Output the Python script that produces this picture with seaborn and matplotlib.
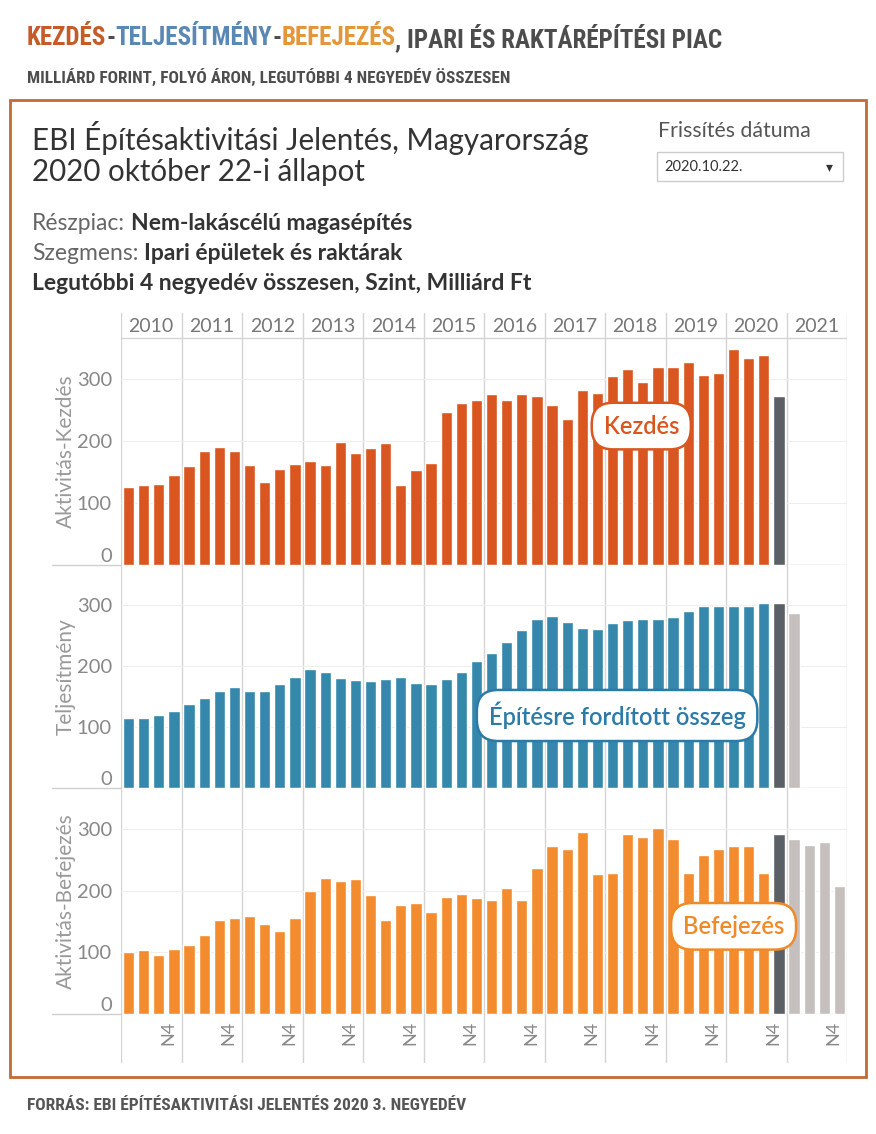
import numpy as np
import pandas as pd
import matplotlib
matplotlib.use('Agg')
import matplotlib.pyplot as plt
from matplotlib import font_manager
from matplotlib.font_manager import FontProperties
from matplotlib.patches import Rectangle
from matplotlib.lines import Line2D
import seaborn as sns

# --- data (Milliárd Ft, legutóbbi 4 negyedév összesen) ---
years = list(range(2010, 2022))
quarters = [f'{y} N{q}' for y in years for q in range(1, 5)]

kezdes = [126, 129, 130, 145, 159, 184, 190, 184, 161, 134, 155, 163,
          167, 161, 198, 180, 188, 196, 129, 153, 165, 246, 262, 266,
          276, 266, 276, 272, 258, 235, 282, 278, 305, 316, 295, 319,
          319, 327, 307, 310, 348, 334, 339, 272]
teljesitmeny = [115, 115, 119, 127, 138, 148, 160, 166, 160, 160, 170, 183,
                195, 191, 181, 177, 175, 179, 183, 173, 170, 179, 191, 208,
                222, 240, 259, 277, 282, 273, 263, 261, 271, 275, 277, 277,
                280, 290, 298, 298, 298, 298, 304, 304, 288]
befejezes = [101, 103, 95, 105, 112, 128, 152, 155, 159, 146, 134, 155,
             200, 220, 216, 218, 192, 152, 177, 179, 165, 189, 195, 188,
             184, 204, 184, 237, 272, 267, 294, 226, 229, 292, 286, 302,
             284, 229, 257, 267, 272, 272, 229, 292, 284, 274, 278, 208]
current_idx = 43  # legutóbbi negyedév, sötétszürke

C_KEZD = '#D95620'
C_TELJ = '#3588AB'
C_BEF = '#F28C2E'
C_CUR = '#5B5F66'
C_FORE = '#C5BFBD'

sns.set_style('white')
plt.rcParams['font.family'] = ['Lato', 'DejaVu Sans']


# condensed bold font for the outer titles, if one is installed
def find_condensed():
    best = None
    for f in font_manager.fontManager.ttflist:
        narrow = ('Condensed' in f.name or 'Narrow' in f.name
                  or f.stretch in ('condensed', 'semi-condensed', 'extra-condensed', 'ultra-condensed')
                  or (isinstance(f.stretch, int) and f.stretch < 500))
        heavy = f.weight in ('bold', 'semibold', 'demibold', 'heavy') or (isinstance(f.weight, int) and f.weight >= 600)
        if narrow and heavy and 'Italic' not in f.fname and 'Oblique' not in f.fname:
            if best is None or ('Bold' in f.fname and 'Semi' not in f.fname):
                best = f
    return best


cf = find_condensed()
COND = FontProperties(fname=cf.fname) if cf else FontProperties(family='DejaVu Sans', weight='bold')
BODY = ['Lato', 'DejaVu Sans']

W, H = 876, 1134
fig = plt.figure(figsize=(W / 100, H / 100), dpi=100)
renderer = fig.canvas.get_renderer()


def rect(x0, y0, x1, y1):
    return [x0 / W, 1 - y1 / H, (x1 - x0) / W, (y1 - y0) / H]


def text_kw(family, weight, size):
    if isinstance(family, FontProperties):
        fp = family.copy()
        fp.set_size(size)
        return dict(fontproperties=fp)
    return dict(family=family, fontweight=weight, fontsize=size)


def measure(s, family, weight, size):
    t = fig.text(0, 0, s, **text_kw(family, weight, size))
    w = t.get_window_extent(renderer=renderer).width
    t.remove()
    return w


def rich_line(x, y, parts, size, family, width=None):
    """pieces of differently styled text on one line; optionally fitted to a pixel width"""
    if width:
        full = ''.join(p[0] for p in parts)
        size = size * width / measure(full, family, parts[-1][2], size)
    prefix, prev_w = '', parts[0][2]
    for s, c, w in parts:
        body = s.lstrip()
        lead = s[:len(s) - len(body)]
        # where the first glyph of this piece would sit inside the whole line
        if prefix:
            off = measure(prefix + lead + body[0], family, prev_w, size) - measure(body[0], family, prev_w, size)
        else:
            off = 0
        fig.text((x + off) / W, 1 - y / H, body, color=c, ha='left', va='center', **text_kw(family, w, size))
        prefix += s
        prev_w = w
    return size


# --- outside titles ---
DG = '#4D4D4D'
rich_line(27, 38, [('KEZDÉS', '#C65A28', 'bold'), ('-', DG, 'bold'),
                   ('TELJESÍTMÉNY', '#5A88B5', 'bold'), ('-', DG, 'bold'),
                   ('BEFEJEZÉS', '#E2983A', 'bold'),
                   (', IPARI ÉS RAKTÁRÉPÍTÉSI PIAC', DG, 'bold')],
          22, COND, width=695)
rich_line(27, 77, [('MILLIÁRD FORINT, FOLYÓ ÁRON, LEGUTÓBBI 4 NEGYEDÉV ÖSSZESEN', DG, 'bold')],
          14, COND, width=485)
rich_line(27, 1106, [('FORRÁS: EBI ÉPÍTÉSAKTIVITÁSI JELENTÉS 2020 3. NEGYEDÉV', '#555555', 'bold')],
          14, COND, width=440)

fig.patches.append(Rectangle((10 / W, 1 - 1077 / H), 856 / W, 977 / H, transform=fig.transFigure,
                             fill=False, ec='#C46A34', lw=2))

# --- dashboard header ---
s = rich_line(32, 138, [('EBI Építésaktivitási Jelentés, Magyarország', '#333333', 'normal')],
              17, BODY, width=556)
rich_line(32, 172, [('2020 október 22-i állapot', '#333333', 'normal')], s, BODY)
s = rich_line(32, 284, [('Legutóbbi 4 negyedév összesen, Szint, Milliárd Ft', '#333333', 'bold')],
              13, BODY, width=500)
rich_line(32, 223, [('Részpiac:', '#666666', 'normal'), (' Nem-lakáscélú magasépítés', '#333333', 'bold')],
          s, BODY)
rich_line(32, 254, [('Szegmens:', '#666666', 'normal'), (' Ipari épületek és raktárak', '#333333', 'bold')],
          s, BODY)

rich_line(658, 131, [('Frissítés dátuma', '#555555', 'normal')], 13, BODY, width=152)
fig.patches.append(Rectangle((657 / W, 1 - 181 / H), 186 / W, 29 / H, transform=fig.transFigure,
                             fc='white', ec='#cccccc', lw=1))
fig.text(664 / W, 1 - 167 / H, '2020.10.22.', fontsize=10.5, color='#333333', va='center')
fig.text(829 / W, 1 - 167 / H, '▾', fontsize=10, color='#333333', va='center', ha='center',
         family='DejaVu Sans')

# --- background grid with year header ---
bg = fig.add_axes(rect(121, 313, 847, 1063))
bg.set_xlim(-0.5, 47.5)
bg.set_ylim(1063, 313)
bg.axis('off')
for k in range(13):
    bg.axvline(-0.5 + 4 * k, color='#d4d4d4', lw=1)
bg.axhline(338, color='#d4d4d4', lw=1)
for i, y in enumerate(years):
    bg.text(1.5 + 4 * i, 326, str(y), ha='center', va='center', color='#777777', fontsize=14)

# panel separators run out to the left under the axis titles
for yy in (565, 788, 1014):
    fig.lines.append(Line2D([52 / W, 121 / W], [1 - yy / H] * 2, transform=fig.transFigure,
                            color='#cfcfcf', lw=1))


def frame(values):
    status = ['tény' if i < current_idx else 'aktuális' if i == current_idx else 'előrejelzés'
              for i in range(len(values))]
    return pd.DataFrame({'negyedev': quarters[:len(values)], 'ertek': values, 'allapot': status})


panels = [
    (338, 565, kezdes, C_KEZD, 'Aktivitás-Kezdés', 'Kezdés', (33.9, 224), C_KEZD),
    (565, 788, teljesitmeny, C_TELJ, 'Teljesítmény', 'Építésre fordított összeg', (32.3, 119), '#2B7BA6'),
    (788, 1014, befejezes, C_BEF, 'Aktivitás-Befejezés', 'Befejezés', (40.0, 142), '#F08A28'),
]

for n, (top, bottom, vals, col, ylab, tag, tag_xy, tag_col) in enumerate(panels):
    ax = fig.add_axes(rect(121, top, 847, bottom))
    ax.set_facecolor('none')
    sns.barplot(data=frame(vals), x='negyedev', y='ertek', hue='allapot', order=quarters,
                hue_order=['tény', 'aktuális', 'előrejelzés'],
                palette={'tény': col, 'aktuális': C_CUR, 'előrejelzés': C_FORE},
                dodge=False, width=0.74, saturation=1, legend=False, ax=ax)
    ax.set_xlim(-0.5, 47.5)
    ax.set_ylim(0, 366)
    ax.set_yticks([0, 100, 200, 300])
    ax.yaxis.grid(True, color='#eeeeee', lw=0.8)
    ax.xaxis.grid(False)
    ax.set_axisbelow(True)
    ax.axhline(0, color='#cfcfcf', lw=1, zorder=0.5)
    for sp in ax.spines.values():
        sp.set_visible(False)
    ax.tick_params(axis='y', length=0, pad=6.5, labelsize=14.5, labelcolor='#888888')
    ax.get_yticklabels()[0].set_va('bottom')
    ax.set_xlabel('')
    ax.set_ylabel(ylab, color='#999999', fontsize=15)
    ax.yaxis.set_label_coords(-0.062, 0.5)
    if n < 2:
        ax.set_xticks([])
    else:
        ax.set_xticks(np.arange(3, 48, 4) - 0.4, ['N4'] * 12, rotation=90)
        ax.tick_params(axis='x', length=0, pad=5, labelsize=13, labelcolor='#888888')
    ax.text(tag_xy[0], tag_xy[1], tag, ha='center', va='center', color=tag_col,
            fontsize=17, fontweight='semibold', zorder=5,
            bbox=dict(boxstyle='round,pad=0.5,rounding_size=0.9', fc='white', ec=tag_col, lw=1.8))

fig.savefig('out.png', dpi=100)
